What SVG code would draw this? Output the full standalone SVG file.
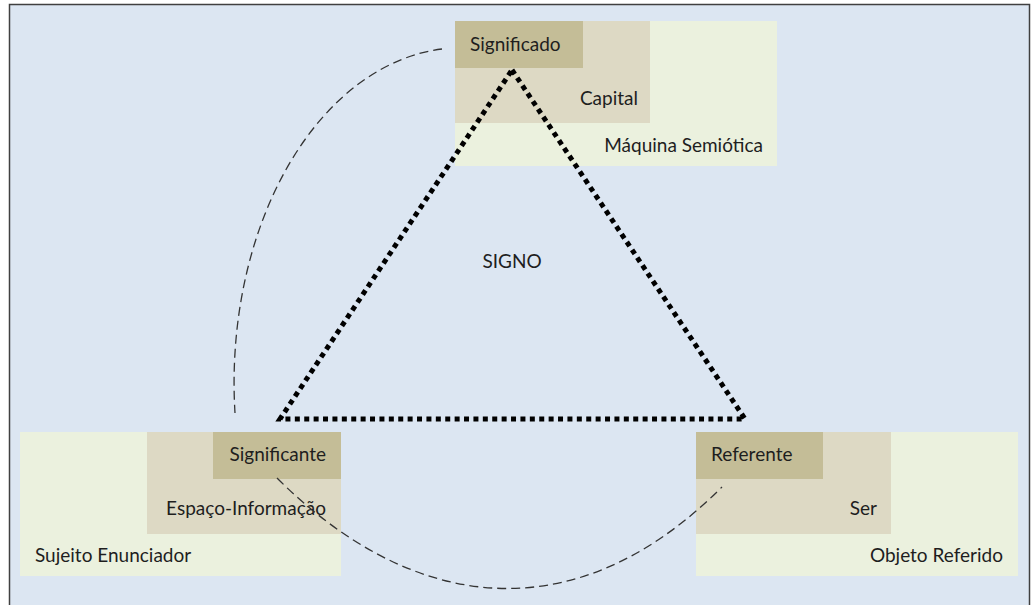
<svg xmlns="http://www.w3.org/2000/svg" width="1031" height="605" viewBox="0 0 1031 605">
  <style>
    .frame { fill: #dce6f2; stroke: #404040; stroke-width: 1.5; }
    .outer { fill: #ebf1de; }
    .mid { fill: #ddd9c4; }
    .core { fill: #c4bd97; }
    .lbl { font-family: Lato, "Liberation Sans", sans-serif; font-size: 19px; fill: #1e1e1e; }
    .end { text-anchor: end; }
    .dotted { fill: none; stroke: #000; stroke-width: 5; stroke-dasharray: 5 4.4; stroke-linejoin: miter; }
    .dashed { fill: none; stroke: #333; stroke-width: 1.3; stroke-dasharray: 9 5; }
  </style>

  <!-- background panel -->
  <rect class="frame" x="9.5" y="4.5" width="1020" height="620"/>

  <!-- top node: Máquina Semiótica / Capital / Significado -->
  <g id="node-significado">
    <rect class="outer" x="455" y="21" width="322" height="145"/>
    <rect class="mid" x="455" y="21" width="195" height="102"/>
    <rect class="core" x="455" y="21" width="128" height="47"/>
    <text class="lbl" x="470" y="51">Significado</text>
    <text class="lbl end" x="638" y="105">Capital</text>
    <text class="lbl end" x="763" y="152">Máquina Semiótica</text>
  </g>

  <!-- bottom-left node: Sujeito Enunciador / Espaço-Informação / Significante -->
  <g id="node-significante">
    <rect class="outer" x="20" y="432" width="321" height="144"/>
    <rect class="mid" x="147" y="432" width="194" height="102"/>
    <rect class="core" x="213" y="432" width="128" height="47"/>
    <text class="lbl end" x="326" y="461">Significante</text>
    <text class="lbl end" x="326" y="515">Espaço-Informação</text>
    <text class="lbl" x="35" y="562">Sujeito Enunciador</text>
  </g>

  <!-- bottom-right node: Objeto Referido / Ser / Referente -->
  <g id="node-referente">
    <rect class="outer" x="696" y="432" width="322" height="144"/>
    <rect class="mid" x="696" y="432" width="195" height="102"/>
    <rect class="core" x="696" y="432" width="127" height="47"/>
    <text class="lbl" x="711" y="461">Referente</text>
    <text class="lbl end" x="877" y="515">Ser</text>
    <text class="lbl end" x="1003" y="562">Objeto Referido</text>
  </g>

  <!-- centre label -->
  <g id="node-signo">
    <text class="lbl" x="512" y="268" text-anchor="middle">SIGNO</text>
  </g>

  <!-- connectors -->
  <g id="connectors">
    <path class="dotted" d="M512,70 L745,419 L280,419 Z"/>
    <path class="dashed" d="M442,49 A227,335 0 0 0 235,413"/>
    <path class="dashed" d="M277,478 C405,606 569,640 722,487"/>
  </g>
</svg>
